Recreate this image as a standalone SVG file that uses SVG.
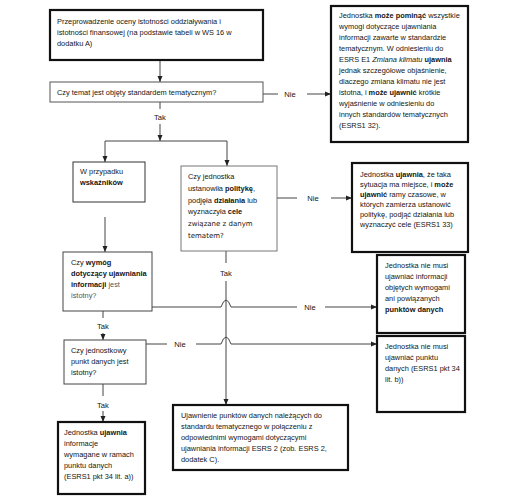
<svg xmlns="http://www.w3.org/2000/svg" width="510" height="498" viewBox="0 0 510 498">
<defs>
<style>
.box{fill:#fff;stroke:#555;stroke-width:1}
.thick{fill:#fff;stroke:#111;stroke-width:2.2}
.ln{fill:none;stroke:#444;stroke-width:1}
text{font-family:"Liberation Sans",Arial,sans-serif;font-size:7.4px;fill:#151515}
.b{font-weight:bold}
.i{font-style:italic}
.g{fill:#555}
.lbl{text-anchor:middle;font-size:7.6px}
.dj{font-family:"DejaVu Sans",sans-serif;font-size:7px}
</style>
<marker id="ar" viewBox="0 0 6 6" refX="6" refY="3" markerWidth="6" markerHeight="6" markerUnits="userSpaceOnUse" orient="auto"><path d="M0,0.5 L6,3 L0,5.5 z" fill="#222"/></marker>
</defs>
<rect width="510" height="498" fill="#fff"/>

<g id="connectors">
<path class="ln" d="M160,60 V82" marker-end="url(#ar)"/>
<path class="ln" d="M263,94 H278"/>
<path class="ln" d="M307,94 H331" marker-end="url(#ar)"/>
<path class="ln" d="M160,102 V109"/>
<path class="ln" d="M160,124 V141" marker-end="url(#ar)"/>
<path class="ln" d="M105,141 H227"/>
<path class="ln" d="M105,141 V162" marker-end="url(#ar)"/>
<path class="ln" d="M227,141 V166" marker-end="url(#ar)"/>
<path class="ln" d="M105,217 V252" marker-end="url(#ar)"/>
<path class="ln" d="M277,198 H297"/>
<path class="ln" d="M331,198 H352" marker-end="url(#ar)"/>
<path class="ln" d="M226,251 V263"/>
<path class="ln" d="M226,281 V405" marker-end="url(#ar)"/>
<path class="ln" d="M152,307 H221 Q226,293 231,307 H297"/>
<path class="ln" d="M325,307 H377" marker-end="url(#ar)"/>
<path class="ln" d="M146,344 H167"/>
<path class="ln" d="M196,344 H221 Q226,330 231,344 H377" marker-end="url(#ar)"/>
<path class="ln" d="M103,311 V318"/>
<path class="ln" d="M103,333 V340" marker-end="url(#ar)"/>
<path class="ln" d="M103,384 V396"/>
<path class="ln" d="M103,411 V422" marker-end="url(#ar)"/>
<text class="lbl" x="290" y="97">Nie</text>
<text class="lbl" x="160" y="120">Tak</text>
<text class="lbl" x="313" y="201">Nie</text>
<text class="lbl" x="226" y="276">Tak</text>
<text class="lbl" x="310" y="310">Nie</text>
<text class="lbl" x="180" y="347">Nie</text>
<text class="lbl" x="103" y="329">Tak</text>
<text class="lbl" x="103" y="408">Tak</text>
</g>

<g id="n1">
<rect class="thick" x="50" y="10" width="213" height="50"/>
<text x="57" y="23.5">Przeprowadzenie oceny istotności oddziaływania i</text>
<text x="57" y="34.5">istotności finansowej (na podstawie tabeli w WS 16 w</text>
<text x="57" y="45.5">dodatku A)</text>
</g>

<g id="n2">
<rect class="box" x="50" y="82" width="213" height="20"/>
<text x="57" y="95">Czy temat jest objęty standardem tematycznym?</text>
</g>

<g id="n3">
<rect class="thick" x="331" y="6" width="137" height="136"/>
<g style="font-size:8px">
<text x="339" y="18">Jednostka <tspan class="b">może pominąć</tspan> wszystkie</text>
<text x="339" y="29">wymogi dotyczące ujawniania</text>
<text x="339" y="40">informacji zawarte w standardzie</text>
<text x="339" y="51">tematycznym. W odniesieniu do</text>
<text x="339" y="62">ESRS E1 <tspan class="i">Zmiana klimatu</tspan> <tspan class="b">ujawnia</tspan></text>
<text x="339" y="73">jednak szczegółowe objaśnienie,</text>
<text x="339" y="84">dlaczego zmiana klimatu nie jest</text>
<text x="339" y="95">istotna, i <tspan class="b">może ujawnić</tspan> krótkie</text>
<text x="339" y="106">wyjaśnienie w odniesieniu do</text>
<text x="339" y="117">innych standardów tematycznych</text>
<text x="339" y="128">(ESRS1 32).</text>
</g>
</g>

<g id="n4">
<rect class="box" x="73" y="162" width="72" height="40" style="stroke:#333"/>
<text x="80" y="174">W przypadku</text>
<text x="80" y="185" class="b">wskaźników</text>
</g>

<g id="n5">
<rect class="box" x="181" y="166" width="96" height="85" style="stroke:#777"/>
<text x="188" y="179">Czy jednostka</text>
<text x="188" y="191">ustanowiła <tspan class="b">politykę</tspan>,</text>
<text x="188" y="203">podjęła <tspan class="b">działania</tspan> lub</text>
<text x="188" y="214">wyznaczyła <tspan class="b">cele</tspan></text>
<text x="188" y="226" class="dj">związane z danym</text>
<text x="188" y="238" class="dj">tematem?</text>
</g>

<g id="n6">
<rect class="thick" x="352" y="163" width="116" height="89"/>
<g style="font-size:7px">
<text x="360" y="177">Jednostka <tspan class="b">ujawnia</tspan>, że taka</text>
<text x="360" y="187">sytuacja ma miejsce, i <tspan class="b">może</tspan></text>
<text x="360" y="197"><tspan class="b">ujawnić</tspan> ramy czasowe, w</text>
<text x="360" y="207">których zamierza ustanowić</text>
<text x="360" y="217">politykę, podjąć działania lub</text>
<text x="360" y="227">wyznaczyć cele (ESRS1 33)</text>
</g>
</g>

<g id="n7">
<rect class="box" x="63" y="252" width="89" height="59" style="stroke:#444"/>
<text x="71" y="265">Czy <tspan class="b">wymóg</tspan></text>
<text x="71" y="276" class="b">dotyczący ujawniania</text>
<text x="71" y="287"><tspan class="b">informacji</tspan> <tspan class="g">jest</tspan></text>
<text x="71" y="298" class="g">istotny?</text>
</g>

<g id="n8">
<rect class="thick" x="377" y="255" width="88" height="78"/>
<g style="font-size:7.6px">
<text x="385" y="268">Jednostka nie musi</text>
<text x="385" y="279">ujawniać informacji</text>
<text x="385" y="290">objętych wymogami</text>
<text x="385" y="301">ani powiązanych</text>
<text x="385" y="312" class="b">punktów danych</text>
</g>
</g>

<g id="n9">
<rect class="thick" x="377" y="336" width="88" height="76"/>
<g style="font-size:7.3px">
<text x="385" y="349">Jednostka nie musi</text>
<text x="385" y="360">ujawniać punktu</text>
<text x="385" y="371">danych (ESRS1 pkt 34</text>
<text x="385" y="382">lit. b))</text>
</g>
</g>

<g id="n10">
<rect class="box" x="64" y="340" width="82" height="44" style="stroke:#444"/>
<text x="71" y="353">Czy jednostkowy</text>
<text x="71" y="364">punkt danych jest</text>
<text x="71" y="375">istotny?</text>
</g>

<g id="n11">
<rect class="thick" x="58" y="422" width="87" height="72"/>
<g style="font-size:7.6px">
<text x="64" y="435">Jednostka <tspan class="b">ujawnia</tspan></text>
<text x="64" y="446">informacje</text>
<text x="64" y="457">wymagane w ramach</text>
<text x="64" y="468">punktu danych</text>
<text x="64" y="479">(ESRS1 pkt 34 lit. a))</text>
</g>
</g>

<g id="n12">
<rect class="thick" x="173" y="405" width="175" height="65"/>
<g style="font-size:7.6px">
<text x="181" y="418">Ujawnienie punktów danych należących do</text>
<text x="181" y="429">standardu tematycznego w połączeniu z</text>
<text x="181" y="440">odpowiednimi wymogami dotyczącymi</text>
<text x="181" y="451">ujawniania informacji ESRS 2 (zob. ESRS 2,</text>
<text x="181" y="462">dodatek C).</text>
</g>
</g>
</svg>
